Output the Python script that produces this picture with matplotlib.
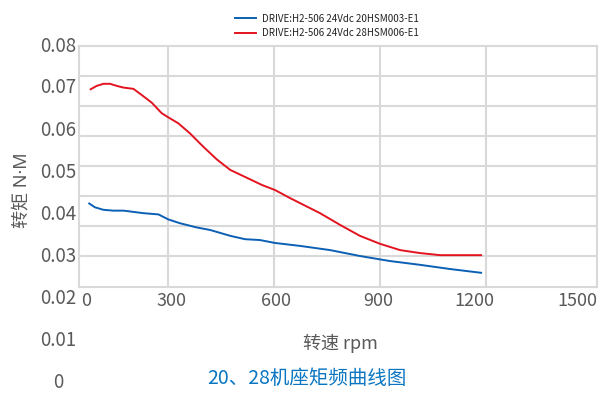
import matplotlib
matplotlib.use('Agg')
import matplotlib.pyplot as plt
import matplotlib.transforms as mtransforms
import numpy as np

plt.rcParams['font.family'] = ['Noto Sans CJK SC', 'DejaVu Sans']

# 20HSM003-E1 (blue)
rpm_blue = [77, 93, 117, 145, 174, 202, 230, 273, 301, 334, 381, 419, 476, 518,
            560, 603, 674, 759, 843, 928, 1013, 1098, 1186]
torque_blue = [0.0425, 0.0416, 0.0410, 0.0408, 0.0408, 0.0405, 0.0402, 0.0399,
               0.0387, 0.0378, 0.0368, 0.0362, 0.0348, 0.0340, 0.0338, 0.0331,
               0.0324, 0.0314, 0.0300, 0.0288, 0.0279, 0.0269, 0.0260]

# 28HSM006-E1 (red)
rpm_red = [81, 98, 117, 136, 155, 174, 202, 226, 254, 282, 301, 329, 362, 400,
           438, 476, 566, 603, 645, 730, 787, 843, 900, 957, 1013, 1070, 1186]
torque_red = [0.0697, 0.0705, 0.0710, 0.0710, 0.0705, 0.0701, 0.0698, 0.0683,
              0.0665, 0.0640, 0.0630, 0.0616, 0.0592, 0.0560, 0.0530, 0.0505,
              0.0469, 0.0457, 0.0438, 0.0402, 0.0374, 0.0348, 0.0329, 0.0314,
              0.0307, 0.0302, 0.0302]

legend_labels = ['DRIVE:H2-506 24Vdc 20HSM003-E1', 'DRIVE:H2-506 24Vdc 28HSM006-E1']
ytick_vals = [0.08, 0.07, 0.06, 0.05, 0.04, 0.03, 0.02, 0.01, 0]
ytick_text = ['0.08', '0.07', '0.06', '0.05', '0.04', '0.03', '0.02', '0.01', '0']
xtick_text = ['0', '300', '600', '900', '1200', '1500']
xgrid = [300, 600, 900, 1200]

# label spots along the x axis (rpm units, they sit off the grid in the original)
xlabel_pos = [68, 311, 606, 894, 1166, 1458]

grid_c = '#d9d9d9'
txt_c = '#595959'

fig = plt.figure(figsize=(5.99, 3.94), dpi=100)
ax = fig.add_axes([79/599, 107/394, 518/599, 241/394])

ax.plot(rpm_blue, torque_blue, color='#0b5fb4', lw=1.4, label=legend_labels[0])
ax.plot(rpm_red, torque_red, color='#e3141f', lw=1.4, label=legend_labels[1])

ax.set_xlim(48, 1514)
ax.set_ylim(0.08 - 241/4200, 0.08)

ax.set_xticks(xgrid)
ax.set_yticks([0.08 - k*30/4200 for k in range(1, 8)])
ax.tick_params(length=0, labelbottom=False, labelleft=False)
ax.grid(True, color=grid_c, lw=1.5)
ax.set_axisbelow(True)
for sp in ax.spines.values():
    sp.set_color(grid_c)
    sp.set_linewidth(1.5)

# y labels follow the data scale, even below the frame
ty = mtransforms.blended_transform_factory(ax.transAxes, ax.transData)
for v, t in zip(ytick_vals, ytick_text):
    ax.text(-0.0405, v, t, transform=ty, ha='center', va='center',
            fontsize=13.5, color=txt_c, clip_on=False)

tx = mtransforms.blended_transform_factory(ax.transData, ax.transAxes)
for p, t in zip(xlabel_pos, xtick_text):
    ax.text(p, -0.06, t, transform=tx, ha='center', va='center',
            fontsize=13, color=txt_c, clip_on=False)

fig.text(22/599, 1 - 190/394, '转矩 N·M', rotation=90, ha='center', va='center',
         fontsize=13, color=txt_c, family=['Noto Sans', 'Noto Sans CJK SC'])
fig.text(340/599, 1 - 343/394, '转速 rpm', ha='center', va='center',
         fontsize=13, color=txt_c)
fig.text(307/599, 1 - 378/394, '20、28机座矩频曲线图', ha='center', va='center',
         fontsize=14, color='#0a76c2')

leg = fig.legend(loc='upper center', bbox_to_anchor=(327/599, 1 - 5/394),
                 frameon=False, fontsize=7, handlelength=2.2, handletextpad=0.6,
                 labelspacing=0.45)
for t in leg.get_texts():
    t.set_color('#222222')

fig.savefig('out.png', dpi=100)
